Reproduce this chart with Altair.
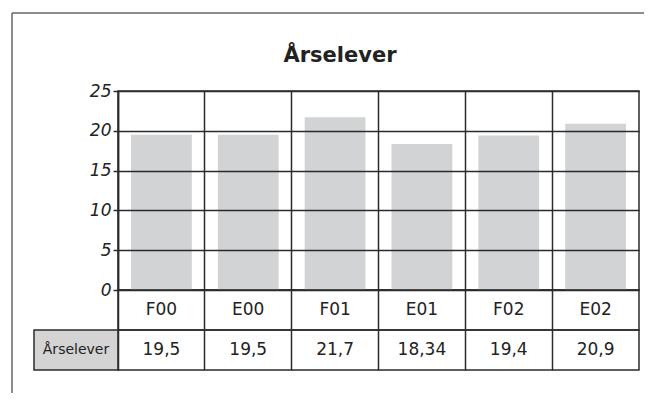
import altair as alt
import pandas as pd

title_text = "Årselever"
series_name = "Årselever"
categories = ["F00", "E00", "F01", "E01", "F02", "E02"]
values = [19.5, 19.5, 21.7, 18.34, 19.4, 20.9]
y_ticks = [0, 5, 10, 15, 20, 25]

labels = [f"{v:g}".replace(".", ",") for v in values]
df = pd.DataFrame({"cat": categories, "val": values, "label": labels})
one = pd.DataFrame({"name": [series_name], "title": [title_text]})

LINE = "#2b2b2b"
FRAME = "#666666"
TXT = "#222222"
FONT = "DejaVu Sans"
W, H, ROW = 521, 199, 40


def xenc():
    return alt.X(
        "cat:N",
        sort=categories,
        scale=alt.Scale(type="band", domain=categories, paddingInner=0, paddingOuter=0),
        axis=alt.Axis(title=None, labels=False, ticks=False, domain=False,
                      grid=True, bandPosition=0, gridColor=LINE,
                      gridWidth=1.5, gridOpacity=1, zindex=1),
    )


bars = alt.Chart(df).mark_bar(color="#d2d3d5", width=alt.RelativeBandSize(0.7)).encode(
    x=xenc(),
    y=alt.Y("val:Q", scale=alt.Scale(domain=[0, 25], nice=False, zero=True),
            axis=alt.Axis(values=y_ticks, title=None, labelFont=FONT,
                          labelFontStyle="italic", labelFontSize=17,
                          labelColor=TXT, labelPadding=2, tickSize=5,
                          tickColor=LINE, tickWidth=1.5, domainColor=LINE,
                          domainWidth=1.5, gridColor=LINE, gridWidth=1.5,
                          gridOpacity=1, zindex=1)),
)

frame_top = alt.Chart(one).mark_rule(stroke=FRAME, strokeWidth=1.5).encode(
    x=alt.value(-106), x2=alt.value(526), y=alt.value(-78)
)
frame_left = alt.Chart(one).mark_rule(stroke=FRAME, strokeWidth=1.5).encode(
    x=alt.value(-106), y=alt.value(-78), y2=alt.value(302)
)

title = alt.Chart(one).mark_text(font=FONT, fontWeight="bold", fontSize=21,
                                 align="center", baseline="alphabetic",
                                 color=TXT).encode(
    x=alt.value(222), y=alt.value(-29), text="title:N"
)

panel1 = alt.layer(frame_top, frame_left, bars, title).properties(width=W, height=H)

panel2 = alt.Chart(df).mark_text(font=FONT, fontSize=17, color=TXT,
                                 baseline="middle").encode(
    x=xenc(), y=alt.value(ROW / 2), text="cat:N"
).properties(width=W, height=ROW)

vals = alt.Chart(df).mark_text(font=FONT, fontSize=17, color=TXT,
                               baseline="middle").encode(
    x=xenc(), y=alt.value(ROW / 2), text="label:N"
)
head_rect = alt.Chart(one).mark_rect(fill="#d4d4d4", stroke=LINE, strokeWidth=1.5).encode(
    x=alt.value(-84), x2=alt.value(0), y=alt.value(0), y2=alt.value(ROW)
)
head_text = alt.Chart(one).mark_text(font=FONT, fontSize=14, color=TXT,
                                     baseline="middle").encode(
    x=alt.value(-42), y=alt.value(ROW / 2), text="name:N"
)
panel3 = alt.layer(head_rect, vals, head_text).properties(width=W, height=ROW)

chart = alt.vconcat(panel1, panel2, panel3, spacing=0, bounds="flush").configure_view(
    stroke=LINE, strokeWidth=1.5
).properties(padding={"left": 2, "top": 3, "right": 0, "bottom": 0})

chart.save("out.html", embed_options={"renderer": "svg", "actions": False})
